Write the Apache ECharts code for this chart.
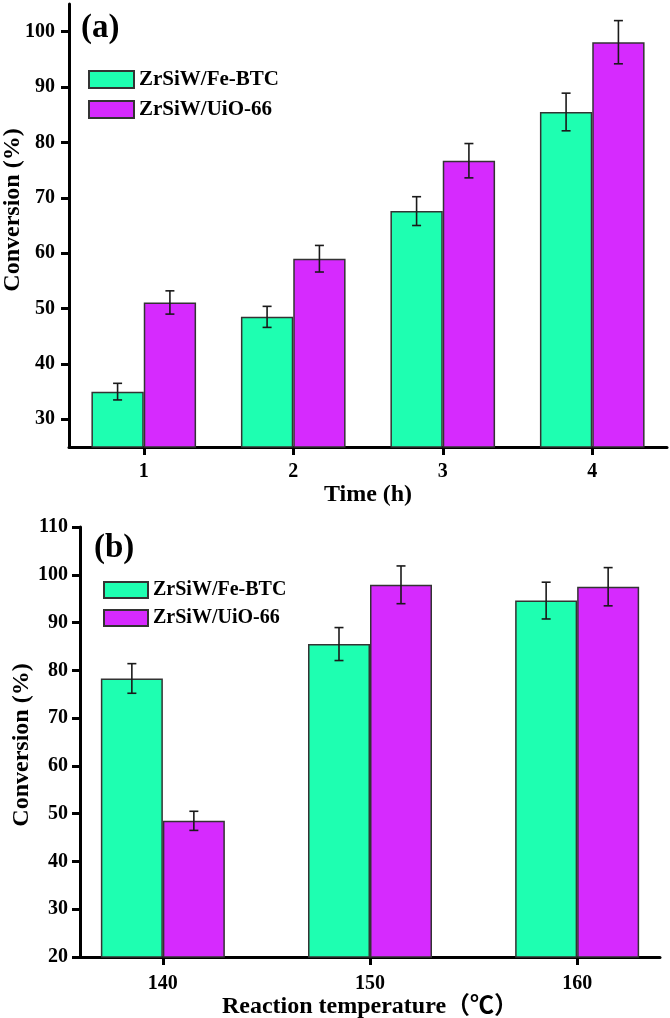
<!DOCTYPE html>
<html>
<head>
<meta charset="utf-8">
<script src="https://cdn.jsdelivr.net/npm/echarts@6/dist/echarts.min.js"></script>
<style>
  html, body { margin: 0; padding: 0; background: #fff; }
  #chart { width: 670px; height: 1018px; }
</style>
</head>
<body>
<div id="chart"></div>
<script>
// ---------- data ----------
const seriesNames = ['ZrSiW/Fe-BTC', 'ZrSiW/UiO-66'];
const yAxisTitle = 'Conversion (%)';

// Panel (a): conversion vs time
const timeCats = ['1', '2', '3', '4'];
const feBtcTime = [35.0, 48.5, 67.6, 85.5];
const feBtcTimeErr = [1.5, 1.9, 2.6, 3.4];
const uioTime = [51.1, 59.0, 76.7, 98.1];
const uioTimeErr = [2.1, 2.4, 3.1, 3.9];
const yTicksA = [30, 40, 50, 60, 70, 80, 90, 100];

// Panel (b): conversion vs reaction temperature
const temps = [140, 150, 160];
const feBtcTemp = [78.3, 85.5, 94.6];
const feBtcTempErr = [3.1, 3.45, 3.85];
const uioTemp = [48.5, 97.9, 97.5];
const uioTempErr = [2.0, 3.95, 4.0];
const yTicksB = [20, 30, 40, 50, 60, 70, 80, 90, 100, 110];
const xTicksB = [140, 150, 160];

// ---------- style ----------
const FONT = "'Liberation Serif', 'Times New Roman', 'Noto Sans CJK SC', serif";
const GREEN = '#1EFFB1';
const PURPLE = '#D62AFE';
const BORDER = '#333';
const BAR_FRAC_A = 0.35;   // bar width as fraction of category band (a)
const BAR_PX_B = 62;       // bar width in px (b)
const CAP = 4.5;

function errRenderer(sign, mode) {
  return function (params, api) {
    const x = api.value(0), lo = api.value(1), hi = api.value(2);
    let dx;
    if (mode === 'cat') {
      const band = api.size([1, 0])[0];
      dx = sign * band * BAR_FRAC_A / 2;
    } else {
      dx = sign * BAR_PX_B / 2;
    }
    const pHi = api.coord([x, hi]);
    const pLo = api.coord([x, lo]);
    const cx = pHi[0] + dx;
    const st = { stroke: '#1a1a1a', lineWidth: 1.6 };
    return {
      type: 'group',
      children: [
        { type: 'line', shape: { x1: cx, y1: pHi[1], x2: cx, y2: pLo[1] }, style: st },
        { type: 'line', shape: { x1: cx - CAP, y1: pHi[1], x2: cx + CAP, y2: pHi[1] }, style: st },
        { type: 'line', shape: { x1: cx - CAP, y1: pLo[1], x2: cx + CAP, y2: pLo[1] }, style: st }
      ]
    };
  };
}

const errA1 = feBtcTime.map((v, i) => [i, v - feBtcTimeErr[i], v + feBtcTimeErr[i]]);
const errA2 = uioTime.map((v, i) => [i, v - uioTimeErr[i], v + uioTimeErr[i]]);
const errB1 = feBtcTemp.map((v, i) => [temps[i], v - feBtcTempErr[i], v + feBtcTempErr[i]]);
const errB2 = uioTemp.map((v, i) => [temps[i], v - uioTempErr[i], v + uioTempErr[i]]);

const axisLineStyle = { show: true, lineStyle: { color: '#000', width: 3 } };
const tickStyle = { show: true, length: 8, lineStyle: { color: '#000', width: 3 } };
const labelStyle = { color: '#000', fontFamily: FONT, fontWeight: 'bold', fontSize: 20 };
const nameStyle = { color: '#000', fontFamily: FONT, fontWeight: 'bold', fontSize: 24 };

function yTitle(x, y) {
  return {
    type: 'text', x: x, y: y, rotation: Math.PI / 2, silent: true,
    style: { text: yAxisTitle, x: 0, y: 0, align: 'center', verticalAlign: 'middle',
      font: 'bold 24px ' + FONT, fill: '#000' }
  };
}

const chart = echarts.init(document.getElementById('chart'), null, { renderer: 'canvas' });
chart.setOption({
  animation: false,
  backgroundColor: '#fff',
  title: [
    { text: '(a)', left: 76, top: 7, textStyle: { fontFamily: FONT, fontWeight: 'bold', fontSize: 33, color: '#000' } },
    { text: '(b)', left: 89, top: 527, textStyle: { fontFamily: FONT, fontWeight: 'bold', fontSize: 33, color: '#000' } }
  ],
  graphic: [ yTitle(13, 210), yTitle(22, 745) ],
  legend: [
    { data: seriesNames, orient: 'vertical', left: 83, top: 64, itemWidth: 45, itemHeight: 17, itemGap: 9,
      icon: 'rect',
      textStyle: { fontFamily: FONT, fontWeight: 'bold', fontSize: 21, lineHeight: 17, color: '#000' }, selectedMode: false },
    { data: seriesNames, orient: 'vertical', left: 98, top: 575, itemWidth: 44, itemHeight: 16, itemGap: 8,
      icon: 'rect',
      textStyle: { fontFamily: FONT, fontWeight: 'bold', fontSize: 20, lineHeight: 16, color: '#000' }, selectedMode: false }
  ],
  grid: [
    { left: 69, top: 4, width: 598, height: 443, outerBoundsMode: 'none', containLabel: false },
    { left: 80, top: 527, width: 580, height: 430, outerBoundsMode: 'none', containLabel: false }
  ],
  xAxis: [
    { type: 'category', gridIndex: 0, data: timeCats, boundaryGap: true,
      axisLine: axisLineStyle, axisTick: Object.assign({ alignWithLabel: true }, tickStyle),
      axisLabel: Object.assign({ margin: 15 }, labelStyle),
      name: 'Time (h)', nameLocation: 'middle', nameGap: 36, nameTextStyle: nameStyle,
      splitLine: { show: false } },
    { type: 'value', gridIndex: 1, min: 136, max: 164,
      axisLine: axisLineStyle, axisTick: Object.assign({ customValues: xTicksB }, tickStyle),
      axisLabel: Object.assign({ margin: 17, customValues: xTicksB }, labelStyle),
      name: 'Reaction temperature（℃）', nameLocation: 'middle', nameGap: 38, nameTextStyle: nameStyle,
      splitLine: { show: false } }
  ],
  yAxis: [
    { type: 'value', gridIndex: 0, min: 25, max: 105,
      axisLine: axisLineStyle, axisTick: Object.assign({ customValues: yTicksA }, tickStyle),
      axisLabel: Object.assign({ margin: 14, customValues: yTicksA }, labelStyle),
      splitLine: { show: false } },
    { type: 'value', gridIndex: 1, min: 20, max: 110,
      axisLine: axisLineStyle, axisTick: Object.assign({ customValues: yTicksB }, tickStyle),
      axisLabel: Object.assign({ margin: 12, customValues: yTicksB }, labelStyle),
      splitLine: { show: false } }
  ],
  series: [
    { name: seriesNames[0], type: 'bar', xAxisIndex: 0, yAxisIndex: 0, data: feBtcTime,
      barWidth: (BAR_FRAC_A * 100) + '%', barGap: '0%',
      itemStyle: { color: GREEN, borderColor: BORDER, borderWidth: 1.5 } },
    { name: seriesNames[1], type: 'bar', xAxisIndex: 0, yAxisIndex: 0, data: uioTime,
      barWidth: (BAR_FRAC_A * 100) + '%', barGap: '0%',
      itemStyle: { color: PURPLE, borderColor: BORDER, borderWidth: 1.5 } },
    { name: seriesNames[0], type: 'bar', xAxisIndex: 1, yAxisIndex: 1,
      data: feBtcTemp.map((v, i) => [temps[i], v]),
      barWidth: BAR_PX_B, barGap: '0%',
      itemStyle: { color: GREEN, borderColor: BORDER, borderWidth: 1.5 } },
    { name: seriesNames[1], type: 'bar', xAxisIndex: 1, yAxisIndex: 1,
      data: uioTemp.map((v, i) => [temps[i], v]),
      barWidth: BAR_PX_B, barGap: '0%',
      itemStyle: { color: PURPLE, borderColor: BORDER, borderWidth: 1.5 } },
    { type: 'custom', xAxisIndex: 0, yAxisIndex: 0, data: errA1, encode: { x: 0, y: [1, 2] },
      renderItem: errRenderer(-1, 'cat'), z: 10, silent: true },
    { type: 'custom', xAxisIndex: 0, yAxisIndex: 0, data: errA2, encode: { x: 0, y: [1, 2] },
      renderItem: errRenderer(1, 'cat'), z: 10, silent: true },
    { type: 'custom', xAxisIndex: 1, yAxisIndex: 1, data: errB1, encode: { x: 0, y: [1, 2] },
      renderItem: errRenderer(-1, 'val'), z: 10, silent: true },
    { type: 'custom', xAxisIndex: 1, yAxisIndex: 1, data: errB2, encode: { x: 0, y: [1, 2] },
      renderItem: errRenderer(1, 'val'), z: 10, silent: true }
  ]
});
</script>
</body>
</html>
